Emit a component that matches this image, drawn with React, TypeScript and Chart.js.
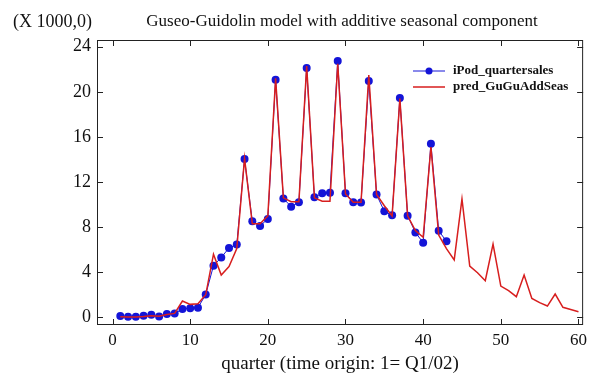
import React, { useEffect, useRef } from "react";
import { Chart, registerables } from "chart.js";

Chart.register(...registerables);

const quarters = [
  1, 2, 3, 4, 5, 6, 7, 8, 9, 10, 11, 12, 13, 14, 15, 16, 17, 18, 19, 20,
  21, 22, 23, 24, 25, 26, 27, 28, 29, 30, 31, 32, 33, 34, 35, 36, 37, 38, 39, 40,
  41, 42, 43, 44, 45, 46, 47, 48, 49, 50, 51, 52, 53, 54, 55, 56, 57, 58, 59, 60,
];

const iPodSales = [
  0.125, 0.057, 0.054, 0.14, 0.219, 0.078, 0.304, 0.336, 0.733, 0.807, 0.86,
  2.016, 4.58, 5.311, 6.155, 6.451, 14.043, 8.526, 8.111, 8.729, 21.066, 10.549,
  9.815, 10.2, 22.121, 10.644, 11.011, 11.052, 22.727, 11.013, 10.215, 10.177,
  20.97, 10.885, 9.406, 9.051, 19.45, 9.017, 7.535, 6.622, 15.397, 7.673, 6.751,
];

const predGuGuAddSeas = [
  0.05, 0.02, 0.03, 0.08, 0.15, 0.1, 0.25, 0.35, 1.45, 1.15, 1.2, 2.0, 5.6, 3.75,
  4.5, 6.1, 14.1, 8.3, 8.3, 9.0, 21.2, 10.6, 10.25, 10.25, 22.3, 10.6, 10.3, 10.3,
  22.5, 10.95, 10.2, 10.2, 21.5, 10.9, 9.9, 9.0, 19.4, 9.0, 7.7, 7.1, 15.1, 7.3,
  6.1, 5.1, 10.5, 4.55, 3.95, 3.25, 6.5, 2.77, 2.36, 1.83, 3.75, 1.68, 1.3, 1.0,
  2.07, 0.89, 0.7, 0.5,
];

const xTickValues = [0, 10, 20, 30, 40, 50, 60];
const yTickValues = [0, 4, 8, 12, 16, 20, 24];

const chartTitle = "Guseo-Guidolin model with additive seasonal component";
const unitLabel = "(X 1000,0)";
const xAxisTitle = "quarter (time origin: 1= Q1/02)";
const seriesNames = ["iPod_quartersales", "pred_GuGuAddSeas"];

const SERIF = "'Liberation Serif', 'Times New Roman', serif";
const BLUE = "rgb(20,20,215)";
const RED = "rgb(215,30,30)";

const decorPlugin = {
  id: "decor",
  afterDraw(chart: any) {
    const { ctx, chartArea, scales } = chart;
    const { left, right, top, bottom } = chartArea;
    ctx.save();
    // frame
    ctx.strokeStyle = "#222";
    ctx.lineWidth = 1;
    ctx.strokeRect(left + 0.5, top + 0.5, right - left - 1, bottom - top - 1);
    // inward ticks
    const tl = 6;
    ctx.beginPath();
    for (const v of xTickValues) {
      const px = Math.round(scales.x.getPixelForValue(v)) + 0.5;
      ctx.moveTo(px, bottom);
      ctx.lineTo(px, bottom - tl);
      ctx.moveTo(px, top);
      ctx.lineTo(px, top + tl);
    }
    for (const v of yTickValues) {
      const py = Math.round(scales.y.getPixelForValue(v)) + 0.5;
      ctx.moveTo(left, py);
      ctx.lineTo(left + tl, py);
      ctx.moveTo(right, py);
      ctx.lineTo(right - tl, py);
    }
    ctx.stroke();

    // title and unit label
    ctx.fillStyle = "#111";
    ctx.textBaseline = "middle";
    ctx.font = `17px ${SERIF}`;
    ctx.textAlign = "center";
    ctx.fillText(chartTitle, 342, 22);
    ctx.font = `18px ${SERIF}`;
    ctx.textAlign = "left";
    ctx.fillText(unitLabel, 13, 22);

    // legend
    const lx0 = 413;
    const lx1 = 445;
    const ys = [71, 87];
    ctx.lineWidth = 1;
    ctx.strokeStyle = BLUE;
    ctx.beginPath();
    ctx.moveTo(lx0, ys[0]);
    ctx.lineTo(lx1, ys[0]);
    ctx.stroke();
    ctx.fillStyle = BLUE;
    ctx.beginPath();
    ctx.arc((lx0 + lx1) / 2, ys[0], 3.5, 0, Math.PI * 2);
    ctx.fill();
    ctx.strokeStyle = RED;
    ctx.lineWidth = 1.5;
    ctx.beginPath();
    ctx.moveTo(lx0, ys[1]);
    ctx.lineTo(lx1, ys[1]);
    ctx.stroke();
    ctx.fillStyle = "#111";
    ctx.font = `bold 13px ${SERIF}`;
    ctx.textAlign = "left";
    ctx.fillText(seriesNames[0], 453, ys[0]);
    ctx.fillText(seriesNames[1], 453, ys[1]);
    ctx.restore();
  },
};

export default function App() {
  const canvasRef = useRef<HTMLCanvasElement | null>(null);

  useEffect(() => {
    document.body.style.margin = "0";
    const canvas = canvasRef.current;
    if (!canvas) return;
    const salesPoints = iPodSales.map((v, i) => ({ x: quarters[i], y: v }));
    const predPoints = predGuGuAddSeas.map((v, i) => ({ x: quarters[i], y: v }));
    const chart = new Chart(canvas, {
      type: "line",
      data: {
        datasets: [
          {
            label: seriesNames[0],
            data: salesPoints,
            borderColor: BLUE,
            backgroundColor: BLUE,
            borderWidth: 1,
            pointRadius: 4,
            pointBorderWidth: 0,
            pointBackgroundColor: BLUE,
            tension: 0,
            order: 2,
          },
          {
            label: seriesNames[1],
            data: predPoints,
            borderColor: RED,
            backgroundColor: RED,
            borderWidth: 1.5,
            pointRadius: 0,
            tension: 0,
            order: 1,
          },
        ],
      },
      options: {
        animation: false,
        responsive: false,
        maintainAspectRatio: false,
        layout: { padding: { left: 0, top: 40, right: 2, bottom: 0 } },
        plugins: {
          legend: { display: false },
          tooltip: { enabled: false },
          title: { display: false },
        },
        scales: {
          x: {
            type: "linear",
            min: -2,
            max: 60.6,
            afterBuildTicks: (scale: any) => {
              scale.ticks = xTickValues.map((v) => ({ value: v }));
            },
            afterFit: (scale: any) => {
              scale.height = 48;
            },
            grid: { display: false, drawTicks: false },
            border: { display: false },
            ticks: {
              color: "#111",
              font: { family: SERIF, size: 17 },
              padding: 5,
              maxRotation: 0,
              autoSkip: false,
            },
            title: {
              display: true,
              text: xAxisTitle,
              color: "#111",
              font: { family: SERIF, size: 19, lineHeight: 1 },
              padding: { top: 0, bottom: -1 },
            },
          },
          y: {
            type: "linear",
            min: -0.68,
            max: 24.6,
            afterBuildTicks: (scale: any) => {
              scale.ticks = yTickValues.map((v) => ({ value: v }));
            },
            afterFit: (scale: any) => {
              scale.width = 97;
            },
            grid: { display: false, drawTicks: false },
            border: { display: false },
            ticks: {
              color: "#111",
              font: { family: SERIF, size: 18 },
              padding: 6,
            },
          },
        },
      },
      plugins: [decorPlugin],
    });
    return () => chart.destroy();
  }, []);

  return (
    <div style={{ width: 592, height: 373, background: "#fff" }}>
      <canvas ref={canvasRef} width={592} height={373} style={{ display: "block" }} />
    </div>
  );
}
